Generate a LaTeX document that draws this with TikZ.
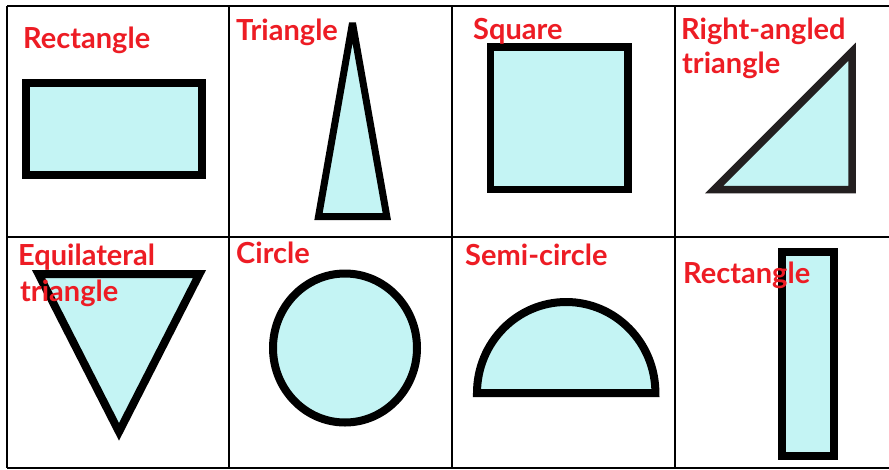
\documentclass[tikz,border=0pt]{standalone}
\usepackage{fontspec}
\setmainfont{Lato}
\definecolor{shapefill}{RGB}{196,244,244}
\definecolor{labelred}{RGB}{237,28,36}
\definecolor{darkstroke}{RGB}{35,31,32}
\begin{document}
\begin{tikzpicture}[x=1pt,y=-1pt,
  gridline/.style={line width=2.2pt,draw=black},
  shapeline/.style={line width=8pt,draw=black,fill=shapefill,line join=miter,miter limit=4},
  lbl/.style={anchor=base west,inner sep=0pt,text=labelred,font=\fontsize{29}{34}\selectfont\bfseries}]
\useasboundingbox (0,0) rectangle (889,469);
\fill[white] (0,0) rectangle (889,469);
% grid
\draw[gridline] (7,6) -- (895,6);
\draw[gridline] (7,237) -- (895,237);
\draw[gridline] (7,468) -- (895,468);
\draw[gridline] (7,6) -- (7,468);
\draw[gridline] (229,6) -- (229,468);
\draw[gridline] (452,6) -- (452,468);
\draw[gridline] (675,6) -- (675,468);
% shapes
\draw[shapeline] (26,83) rectangle (201.5,174.5);
\draw[shapeline,line width=7pt] (352.5,23) -- (386.8,216.5) -- (318.5,216.5) -- cycle;
\draw[shapeline,line width=7.5pt] (490.5,47) rectangle (628,189.5);
\draw[shapeline,draw=darkstroke,line width=7.5pt] (852,51.7) -- (852,189.5) -- (714.2,189.5) -- cycle;
\draw[shapeline] (38.5,274) -- (199.5,274) -- (119,431.8) -- cycle;
\draw[shapeline] (345,348) ellipse [x radius=72, y radius=74.5];
\draw[shapeline] (477,393) arc[start angle=180, end angle=360, x radius=89.2, y radius=91] -- cycle;
\draw[shapeline] (782,252) rectangle (834,456);
% labels
\node[lbl] (l1) at (23,48) {Rectangle};
\node[lbl] (l2) at (236,40) {Triangle};
\node[lbl] (l3) at (473,39) {Square};
\node[lbl] (l4) at (681,39) {Right-angled};
\node[lbl] (l4b) at (682,73) {triangle};
\node[lbl] (l5) at (18,265) {Equilateral};
\node[lbl] (l5b) at (20,301) {triangle};
\node[lbl] (l6) at (236,263) {Circle};
\node[lbl] (l7) at (465,265) {Semi-circle};
\node[lbl] (l8) at (683,283) {Rectangle};
\end{tikzpicture}
\end{document}
